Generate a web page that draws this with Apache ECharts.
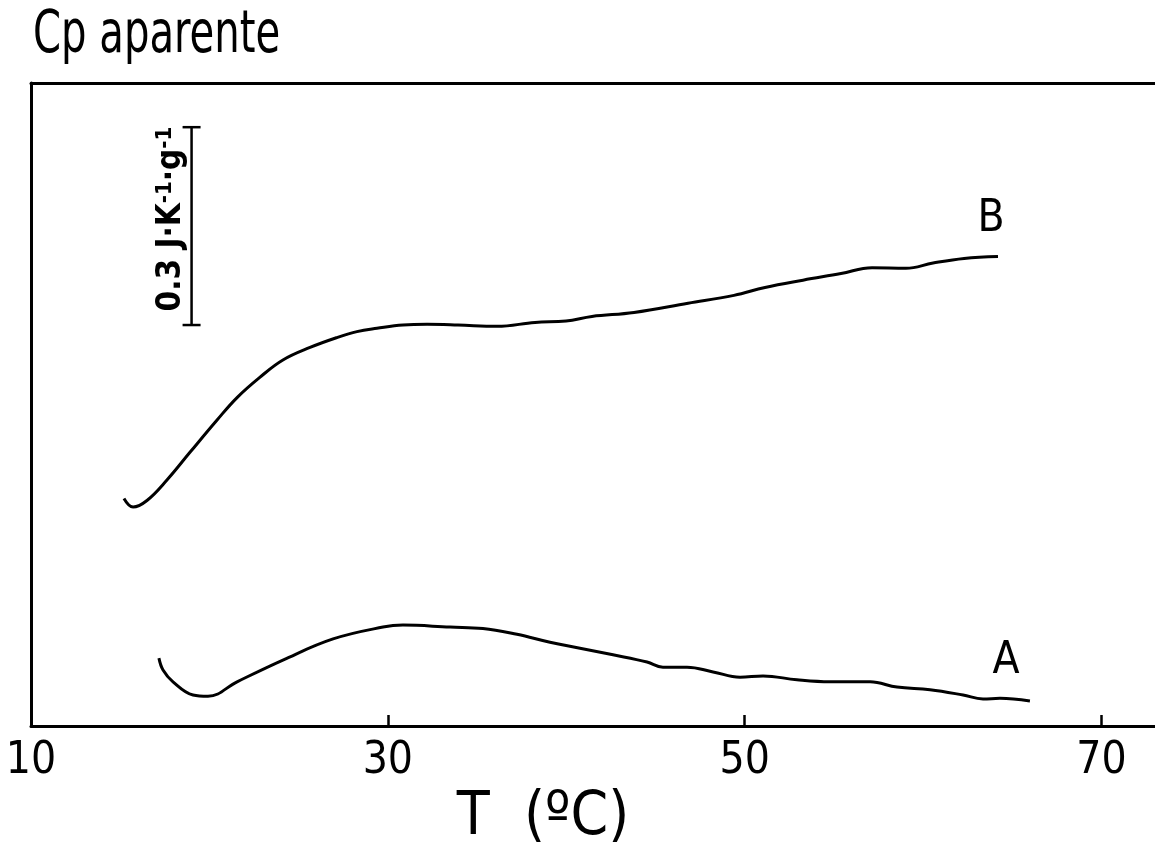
<!DOCTYPE html>
<html>
<head>
<meta charset="utf-8">
<script src="https://cdn.jsdelivr.net/npm/echarts@6/dist/echarts.min.js"></script>
<style>html,body{margin:0;padding:0;background:#fff;}#c{width:1155px;height:845px;}</style>
</head>
<body>
<div id="c"></div>
<script>
// Temperature (ºC) and apparent Cp (arbitrary offset, J·K-1·g-1 units)
var curveB_T = [15.21,15.72,16.50,17.62,18.91,20.43,21.55,22.84,24.12,25.64,27.15,28.27,29.39,30.85,32.20,33.93,36.12,38.25,39.99,41.44,43.80,46.83,49.40,51.14,53.27,55.40,57.14,59.04,60.56,62.30,64.20];
var curveB_Cp = [0.345,0.332,0.342,0.373,0.415,0.464,0.498,0.529,0.555,0.574,0.589,0.598,0.603,0.608,0.609,0.608,0.606,0.612,0.614,0.621,0.627,0.641,0.653,0.665,0.676,0.686,0.695,0.694,0.702,0.709,0.712];
var curveA_T = [17.17,17.40,17.96,19.08,19.92,21.55,24.12,26.93,29.73,30.85,33.49,35.33,37.24,39.09,40.77,42.62,44.53,45.42,46.77,48.23,49.74,51.03,52.93,54.78,57.03,58.54,60.39,62.24,63.36,64.31,65.99];
var curveA_Cp = [0.103,0.085,0.067,0.047,0.045,0.067,0.100,0.132,0.150,0.153,0.150,0.148,0.139,0.127,0.118,0.108,0.097,0.089,0.089,0.082,0.074,0.076,0.070,0.067,0.067,0.059,0.055,0.047,0.041,0.042,0.038];
var xTickLabels = [10, 30, 50, 70];
var xTickMarks = [30, 50, 70];
var scaleBar = { T: 19, base: 0.608, length: 0.3 };
var labelB = { name: 'B', T: 63.81, Cp: 0.768 };
var labelA = { name: 'A', T: 64.65, Cp: 0.097 };
var titleText = 'Cp aparente';
var xName = 'T  (ºC)';

function zip(a, b) { return a.map(function (v, i) { return [v, b[i]]; }); }

var FONT = "'DejaVu Sans Condensed','Liberation Sans Narrow',sans-serif";
var chart = echarts.init(document.getElementById('c'), null, { renderer: 'canvas' });
var option = {
  backgroundColor: '#fff',
  animation: false,
  graphic: [{
    type: 'text', x: 33, y: 37, scaleX: 0.77, scaleY: 1,
    style: { text: titleText, fill: '#000', font: 'normal 58px ' + FONT, textAlign: 'left', textVerticalAlign: 'middle', verticalAlign: 'middle' }
  }],
  grid: { left: 31, right: 0, top: 83, bottom: 119, outerBoundsMode: 'none', containLabel: false },
  xAxis: [{
    type: 'value', min: 10, max: 73,
    axisLine: { show: true, lineStyle: { color: '#000', width: 3 } },
    axisTick: { show: true, inside: true, length: 11, lineStyle: { color: '#000', width: 2.5 }, customValues: xTickMarks },
    axisLabel: { show: true, customValues: xTickLabels, margin: 14, color: '#000', fontFamily: FONT, fontSize: 44 },
    splitLine: { show: false },
    name: xName, nameLocation: 'middle', nameGap: 60,
    nameTextStyle: { fontFamily: FONT, fontSize: 60, color: '#000', padding: [0, 100, 0, 0] }
  }, {
    type: 'value', min: 10, max: 73, position: 'top',
    axisLine: { show: true, lineStyle: { color: '#000', width: 3 } },
    axisTick: { show: false }, axisLabel: { show: false }, splitLine: { show: false }
  }],
  yAxis: {
    type: 'value', min: 0, max: 0.975,
    axisLine: { show: true, lineStyle: { color: '#000', width: 3 } },
    axisTick: { show: false }, axisLabel: { show: false }, splitLine: { show: false }
  },
  series: [{
    type: 'line', name: 'B', data: zip(curveB_T, curveB_Cp), smooth: 0.4,
    symbol: 'none', lineStyle: { color: '#000', width: 3 },
    markPoint: {
      symbol: 'circle', symbolSize: 0,
      label: { show: true, position: 'inside', color: '#000', fontFamily: FONT, fontSize: 44, formatter: labelB.name },
      data: [{ coord: [labelB.T, labelB.Cp] }]
    }
  }, {
    type: 'line', name: 'A', data: zip(curveA_T, curveA_Cp), smooth: 0.4,
    symbol: 'none', lineStyle: { color: '#000', width: 3 },
    markPoint: {
      symbol: 'circle', symbolSize: 0,
      label: { show: true, position: 'inside', color: '#000', fontFamily: FONT, fontSize: 44, formatter: labelA.name },
      data: [{ coord: [labelA.T, labelA.Cp] }]
    }
  }, {
    type: 'custom', name: 'scale',
    data: [[scaleBar.T, scaleBar.base, scaleBar.length]],
    renderItem: function (params, api) {
      var p0 = api.coord([api.value(0), api.value(1)]);
      var p1 = api.coord([api.value(0), api.value(1) + api.value(2)]);
      var st = { stroke: '#000', lineWidth: 2.5 };
      return {
        type: 'group',
        children: [
          { type: 'line', shape: { x1: p0[0], y1: p0[1], x2: p1[0], y2: p1[1] }, style: st },
          { type: 'line', shape: { x1: p0[0] - 9, y1: p0[1], x2: p0[0] + 9, y2: p0[1] }, style: st },
          { type: 'line', shape: { x1: p1[0] - 9, y1: p1[1], x2: p1[0] + 9, y2: p1[1] }, style: st },
          {
            type: 'text', x: p0[0] - 20, y: (p0[1] + p1[1]) / 2 - 7, rotation: Math.PI / 2,
            style: {
              text: '{b|0.3 J·K}{s|-1}{b|·g}{s|-1}',
              fill: '#000', align: 'center', verticalAlign: 'middle',
              rich: {
                b: { fontFamily: FONT, fontWeight: 'bold', fontSize: 33, lineHeight: 34, fill: '#000' },
                s: { fontFamily: FONT, fontWeight: 'bold', fontSize: 22, lineHeight: 22, verticalAlign: 'top', fill: '#000' }
              }
            }
          }
        ]
      };
    }
  }]
};
chart.setOption(option);
</script>
</body>
</html>
